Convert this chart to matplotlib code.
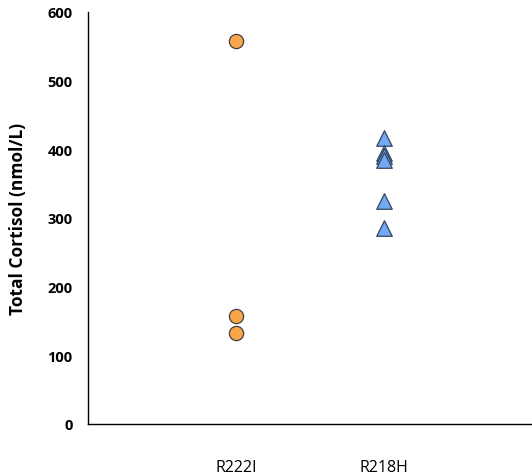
import matplotlib
matplotlib.use("Agg")
import matplotlib.pyplot as plt

categories = ["R222I", "R218H"]
r222i_values = [558, 157, 132]
r218h_values = [416, 394, 390, 385, 325, 285]
y_ticks = [0, 100, 200, 300, 400, 500, 600]

plt.rcParams['font.family'] = ['Open Sans', 'DejaVu Sans']

fig = plt.figure(figsize=(5.32, 4.77), dpi=100)
ax = fig.add_axes([88/532, 52/477, 444/532, 412/477])

ax.scatter([1]*len(r222i_values), r222i_values, s=105, marker='o',
           facecolor='#F9A64A', edgecolor='#404040', linewidth=0.9, zorder=3)
ax.scatter([2]*len(r218h_values), r218h_values, s=125, marker='^',
           facecolor='#72A8F4', edgecolor='#34465E', linewidth=0.9, zorder=3)

ax.set_xlim(0, 3)
ax.set_ylim(0, 600)
ax.set_xticks([1, 2])
ax.set_xticklabels(categories, fontsize=11.5)
ax.set_yticks(y_ticks)
ax.set_yticklabels([str(t) for t in y_ticks], fontsize=10.5, fontweight='bold')
ax.tick_params(axis='both', length=0)
ax.tick_params(axis='x', pad=25)
ax.tick_params(axis='y', pad=11)
ax.set_ylabel("Total Cortisol (nmol/L)", fontsize=12.5, fontweight='bold', labelpad=15)
for s in ['top', 'right']:
    ax.spines[s].set_visible(False)
for s in ['left', 'bottom']:
    ax.spines[s].set_linewidth(1.0)
    ax.spines[s].set_color('black')

fig.savefig("out.png", dpi=100)
